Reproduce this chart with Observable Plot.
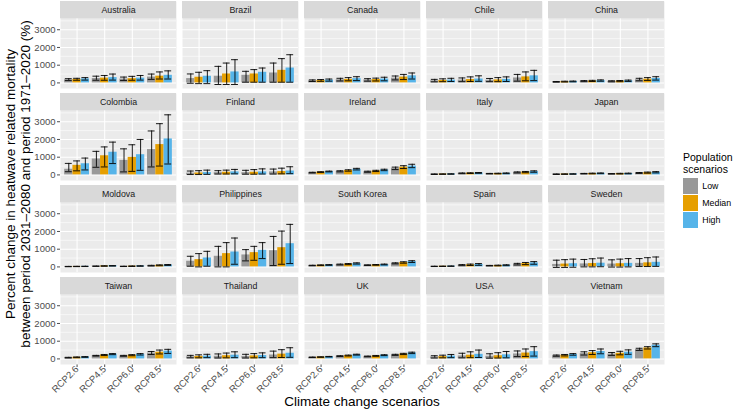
<!DOCTYPE html>
<html><head><meta charset="utf-8">
<script src="https://cdn.jsdelivr.net/npm/d3@7"></script>
<script src="https://cdn.jsdelivr.net/npm/@observablehq/plot@0.6"></script>
<style>
body{margin:0;background:#fff;font-family:"Liberation Sans",Arial,sans-serif;}
#wrap{position:relative;width:733px;height:418px;overflow:hidden;}
#legend{position:absolute;left:683px;top:150.5px;font-family:"Liberation Sans",Arial,sans-serif;color:#000;}
#legend .title{font-size:10.5px;line-height:12px;white-space:nowrap;}
#legend .item{display:flex;align-items:center;height:17px;}
#legend .sw{width:15.3px;height:15.3px;margin-right:4px;}
#legend .lab{font-size:8.8px;color:#000;}
</style></head>
<body><div id="wrap"><div id="chart"></div><div id="legend"></div></div>
<script>
const countries = ["Australia","Brazil","Canada","Chile","China","Colombia","Finland","Ireland","Italy","Japan","Moldova","Philippines","South Korea","Spain","Sweden","Taiwan","Thailand","UK","USA","Vietnam"];
const rcps = ["RCP2.6","RCP4.5","RCP6.0","RCP8.5"];
const pops = ["Low","Median","High"];
const popColors = ["#999999","#E69F00","#56B4E9"];
const yTicks = [0,1000,2000,3000];
const yMinor = [500,1500,2500,3500];

// Low population scenario: estimate, lower, upper (rows = countries, cols = RCPs)
const lowEst = [[180,250,220,330],[245,375,430,560],[120,180,170,270],[120,160,150,280],[60,100,90,180],[320,900,820,1430],[100,130,130,170],[130,200,180,370],[40,90,70,140],[40,70,60,110],[20,40,30,70],[320,600,675,915],[80,130,100,200],[30,100,70,150],[140,170,160,200],[70,180,170,330],[120,150,140,220],[90,160,140,230],[110,170,150,280],[180,300,270,530]];
const lowLo = [[130,150,140,200],[-20,-90,40,40],[80,110,100,170],[60,70,70,100],[40,70,60,120],[180,430,170,450],[20,50,40,50],[110,170,150,300],[25,70,55,110],[25,55,45,85],[10,30,20,50],[40,0,340,75],[65,110,85,170],[20,70,55,110],[-30,0,-10,20],[50,160,150,250],[60,50,50,70],[75,140,120,200],[50,60,40,130],[150,220,200,480]];
const lowHi = [[240,380,330,500],[505,935,655,1120],[170,260,240,390],[200,280,250,480],[80,130,120,260],[650,1330,1470,2480],[220,240,260,330],[150,235,210,440],[55,110,85,170],[55,85,75,135],[30,50,40,90],[600,1160,975,1720],[95,160,115,230],[40,130,85,200],[380,420,400,470],[90,200,200,420],[200,280,260,440],[105,180,160,260],[180,320,290,450],[220,400,360,600]];
// Median population scenario
const medEst = [[200,270,240,380],[320,505,505,710],[140,200,190,330],[140,190,170,340],[70,110,100,210],[540,1080,990,1710],[110,150,150,190],[160,250,220,440],[45,100,80,160],[45,80,70,130],[25,50,40,90],[410,750,805,1085],[95,160,115,250],[35,120,80,190],[160,190,180,230],[90,220,210,380],[140,180,170,270],[105,190,170,280],[130,210,180,330],[210,350,320,620]];
const medLo = [[150,150,150,220],[-40,-90,40,40],[90,120,110,190],[70,80,70,120],[50,80,70,140],[230,450,200,500],[20,50,40,60],[140,210,190,360],[30,80,60,125],[30,60,50,100],[15,35,25,65],[0,0,375,150],[75,130,95,210],[25,80,60,130],[-30,0,-10,20],[70,190,180,280],[60,60,60,80],[90,165,145,245],[60,70,50,140],[170,250,230,560]];
const medHi = [[260,420,370,620],[600,1120,750,1370],[190,300,270,480],[230,340,300,620],[95,145,135,300],[790,1580,1700,2890],[240,270,300,380],[180,290,260,520],[60,120,95,195],[60,100,90,160],[35,65,55,115],[750,1370,1160,2020],[115,190,135,290],[45,160,100,250],[410,460,440,520],[110,250,240,500],[230,330,300,520],[120,215,195,315],[210,400,350,560],[250,470,430,690]];
// High population scenario
const highEst = [[230,300,270,430],[375,620,600,840],[160,240,220,400],[160,220,200,400],[80,130,120,250],[630,1280,1140,2030],[130,170,170,220],[190,320,280,500],[50,110,90,190],[50,90,80,150],[30,60,50,110],[505,840,935,1310],[110,190,135,300],[40,140,95,230],[180,210,200,260],[110,270,260,440],[160,210,190,320],[125,240,210,340],[160,260,230,410],[250,420,380,770]];
const highLo = [[160,160,160,220],[-40,-90,40,40],[100,130,120,220],[80,90,80,130],[60,95,85,160],[280,640,260,615],[30,60,50,70],[170,280,240,410],[35,90,70,150],[35,70,60,115],[20,45,35,85],[40,150,470,190],[90,160,115,250],[30,90,70,150],[-20,10,0,30],[90,240,220,310],[70,70,70,90],[110,215,185,300],[70,80,60,160],[210,290,260,690]];
const highHi = [[300,500,420,680],[690,1310,840,1590],[220,350,320,560],[260,400,340,710],[105,170,160,350],[950,1850,2000,3390],[270,310,340,460],[215,370,320,600],[65,135,110,230],[65,110,100,185],[40,75,65,135],[880,1630,1370,2400],[130,230,160,350],[55,190,120,300],[440,500,470,560],[130,300,300,540],[260,400,340,630],[140,265,235,380],[250,500,420,690],[300,560,510,850]];

const series = [
  {pop: "Low", est: lowEst, lo: lowLo, hi: lowHi},
  {pop: "Median", est: medEst, lo: medLo, hi: medHi},
  {pop: "High", est: highEst, lo: highLo, hi: highHi}
];

const rows = [];
countries.forEach((c, i) => rcps.forEach((r, k) => series.forEach((s, j) => rows.push({
  country: c, col: i % 5, row: Math.floor(i / 5), rcp: r, pos: k + 1, pop: s.pop, slot: j,
  est: s.est[i][k], lo: s.lo[i][k], hi: s.hi[i][k]
}))));

// panel geometry (ggplot-like)
const yMin = -315, yMax = 3618;
const stripFrac = 17.3 / 69.8;
const yTop = yMax + (yMax - yMin) * stripFrac;
const xMin = 0.4, xMax = 4.6;
const dodge = 0.3, ebHalf = 0.125;
const center = d => d.pos + (d.slot - 1) * dodge;
const isFirst = d => d.pos === 1 && d.slot === 0;

const plot = Plot.plot({
  width: 733, height: 418,
  marginTop: 1, marginBottom: 53.4, marginLeft: 59.5, marginRight: 68.6,
  style: {fontFamily: "Liberation Sans, Arial, sans-serif", fontSize: "9.5px", color: "#4D4D4D", background: "white"},
  facet: {data: rows, x: "col", y: "row"},
  fx: {domain: [0,1,2,3,4], axis: null, paddingInner: 0.0459, paddingOuter: 0},
  fy: {domain: [0,1,2,3], axis: null, paddingInner: 0.0574, paddingOuter: 0},
  x: {domain: [xMin, xMax], ticks: [1,2,3,4], tickFormat: d => rcps[d - 1], tickRotate: -45, tickSize: 3, tickPadding: 0, label: null},
  y: {domain: [yMin, yTop], ticks: yTicks, tickSize: 3, tickPadding: 2, label: null, tickFormat: d => String(d)},
  color: {domain: pops, range: popColors},
  marks: [
    Plot.frame({fill: "#EBEBEB", stroke: null}),
    Plot.ruleY(yMinor, {stroke: "white", strokeWidth: 0.55}),
    Plot.ruleY(yTicks, {stroke: "white", strokeWidth: 1.07}),
    Plot.ruleX([1,2,3,4], {stroke: "white", strokeWidth: 1.07}),
    Plot.rect(rows, {x1: d => center(d) - dodge / 2, x2: d => center(d) + dodge / 2, y1: 0, y2: "est", fill: "pop"}),
    Plot.ruleX(rows, {x: center, y1: "lo", y2: "hi", stroke: "black", strokeWidth: 0.9}),
    Plot.ruleY(rows, {y: "lo", x1: d => center(d) - ebHalf, x2: d => center(d) + ebHalf, stroke: "black", strokeWidth: 0.9}),
    Plot.ruleY(rows, {y: "hi", x1: d => center(d) - ebHalf, x2: d => center(d) + ebHalf, stroke: "black", strokeWidth: 0.9}),
    Plot.rect(rows, {filter: isFirst, x1: xMin, x2: xMax, y1: yMax, y2: yTop, fill: "#D9D9D9"}),
    Plot.text(rows, {filter: isFirst, x: (xMin + xMax) / 2, y: (yMax + yTop) / 2, text: "country", fill: "#1A1A1A", fontSize: 8.8})
  ]
});
document.getElementById("chart").appendChild(plot);

// axis titles
const svg = d3.select(plot);
svg.append("text").attr("x", 362).attr("y", 406).attr("text-anchor", "middle")
  .attr("font-size", 13.5).attr("fill", "#000").text("Climate change scenarios");
const yt = svg.append("text").attr("transform", "translate(0,184) rotate(-90)").attr("text-anchor", "middle")
  .attr("font-size", 13.5).attr("fill", "#000");
yt.append("tspan").attr("x", 0).attr("y", 14.5).text("Percent change in heatwave related mortality");
yt.append("tspan").attr("x", 0).attr("y", 29.5).text("between period 2031\u20132080 and period 1971\u20132020 (%)");

// legend
const lg = d3.select("#legend");
lg.append("div").attr("class", "title").text("Population");
lg.append("div").attr("class", "title").style("margin-bottom", "3px").text("scenarios");
pops.forEach((p, i) => {
  const it = lg.append("div").attr("class", "item");
  it.append("div").attr("class", "sw").style("background", popColors[i]);
  it.append("div").attr("class", "lab").text(p);
});
</script>
</body></html>
